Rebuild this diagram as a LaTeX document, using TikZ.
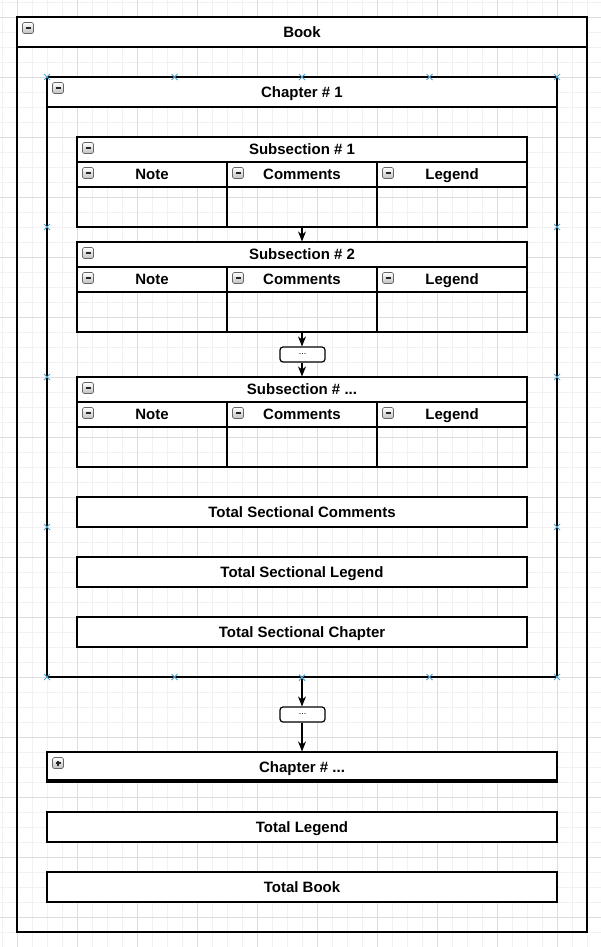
\documentclass[tikz,border=0pt]{standalone}
\usepackage{fontspec}
\setmainfont{Liberation Sans}
\usetikzlibrary{arrows.meta,calc}
\definecolor{gridminor}{RGB}{241,241,241}
\definecolor{gridmajor}{RGB}{221,221,221}
\definecolor{marker}{RGB}{80,160,205}
\newcommand{\moredots}{...}
\tikzset{
  box/.style={draw, line width=1.2pt, inner sep=0pt},
  whitebox/.style={box, fill=white},
  title/.style={font=\bfseries\fontsize{15}{17}\selectfont, inner sep=0pt,
    text height=10.7pt, text depth=0pt},
  dots/.style={draw, line width=1.2pt, fill=white, rounded corners=3pt,
    minimum width=45pt, minimum height=15pt, inner sep=0pt,
    font=\fontsize{9}{10}\selectfont},
  arr/.style={-{Stealth[length=10pt,width=8pt]}, line width=1.2pt},
  pics/minusicon/.style={code={
    \draw[gray!80!black, line width=0.6pt, rounded corners=1.5pt,
      top color=white, bottom color=gray!50] (-0.5,-0.5) rectangle (10.5,10.5);
    \draw[line width=1.6pt, black!85] (2.5,5) -- (7.5,5);}},
  pics/plusicon/.style={code={
    \draw[gray!80!black, line width=0.6pt, rounded corners=1.5pt,
      top color=white, bottom color=gray!50] (-0.5,-0.5) rectangle (10.5,10.5);
    \draw[line width=1.2pt, black!85] (2.5,5) -- (7.5,5) (5,2.5) -- (5,7.5);}},
}
\begin{document}
\begin{tikzpicture}[x=1pt, y=-1pt]
\useasboundingbox (0,0) rectangle (601,947);
% background grid
\foreach \g in {2,17,...,947} \draw[gridminor, line width=0.6pt] (0,\g) -- (601,\g);
\foreach \g in {2,17,...,601} \draw[gridminor, line width=0.6pt] (\g,0) -- (\g,947);
\foreach \g in {17,77,...,947} \draw[gridmajor, line width=0.6pt] (0,\g) -- (601,\g);
\foreach \g in {17,77,...,601} \draw[gridmajor, line width=0.6pt] (\g,0) -- (\g,947);

% Book
\node[box, minimum width=570pt, minimum height=915pt] (book) at (302,474.5) {};
\draw[whitebox] (17,17) rectangle (587,47);
\node[title] (booktitle) at (302,32) {Book};
\pic at (23,23) {minusicon};

% Chapter # 1
\node[box, minimum width=510pt, minimum height=600pt] (ch1) at (302,377) {};
\draw[whitebox] (47,77) rectangle (557,107);
\node[title] (ch1title) at (302,92) {Chapter \# 1};
\pic at (53,83) {minusicon};

% Subsections
\foreach \top/\num/\name in {137/1/sub1, 242/2/sub2, 377/\moredots/sub3} {
    \begin{scope}[shift={(0,\top)}]
        \node[box, minimum width=450pt, minimum height=90pt] (\name) at (302,45) {};
        \draw[whitebox] (77,0) rectangle (527,25);
        \node[title] at (302,12.5) {Subsection \# \num};
        \pic at (83,6) {minusicon};
        \foreach \cx/\col in {77/Note, 227/Comments, 377/Legend} {
            \draw[whitebox] (\cx,25) rectangle ++(150,25);
            \draw[box] (\cx,50) rectangle ++(150,40);
            \node[title] at (\cx+75,37.5) {\col};
            \pic at (\cx+6,31) {minusicon};
        }
    \end{scope}
}
\node[dots] (dots1) at (302.5,354.5) {\moredots};

% Chapter totals
\node[whitebox, minimum width=450pt, minimum height=30pt, title] (totcom) at (302,512) {Total Sectional Comments};
\node[whitebox, minimum width=450pt, minimum height=30pt, title] (totleg) at (302,572) {Total Sectional Legend};
\node[whitebox, minimum width=450pt, minimum height=30pt, title] (totchap) at (302,632) {Total Sectional Chapter};

% connection markers on Chapter # 1
\foreach \p in {(47,77),(174.5,77),(302,77),(429.5,77),(557,77),
                (47,677),(174.5,677),(429.5,677),(557,677),
                (47,227),(47,377),(47,527),(557,227),(557,377),(557,527)} {
    \draw[marker, line width=1pt] \p +(-3,-3) -- +(3,3) +(-3,3) -- +(3,-3);
}

% further chapters
\node[dots] (dots2) at (302.5,714.5) {\moredots};
\node[whitebox, minimum width=510pt, minimum height=30pt, title] (chN) at (302,767) {Chapter \# \moredots};
\draw[line width=2.6pt] (47,780.5) -- (557,780.5);
\pic at (53,758) {plusicon};

% book totals
\node[whitebox, minimum width=510pt, minimum height=30pt, title] (totlegend) at (302,827) {Total Legend};
\node[whitebox, minimum width=510pt, minimum height=30pt, title] (totbook) at (302,887) {Total Book};

% arrows
\draw[arr] (sub1.south) -- (sub2.north);
\draw[arr] (sub2.south) -- (dots1.north -| sub2.south);
\draw[arr] (dots1.south -| sub2.south) -- (sub3.north);
\draw[arr] (ch1.south) -- (dots2.north -| ch1.south);
\draw[arr] (dots2.south -| ch1.south) -- (chN.north);
\draw[marker, line width=1pt] (ch1.south) +(-3,-3) -- +(3,3) +(-3,3) -- +(3,-3);
\end{tikzpicture}
\end{document}
